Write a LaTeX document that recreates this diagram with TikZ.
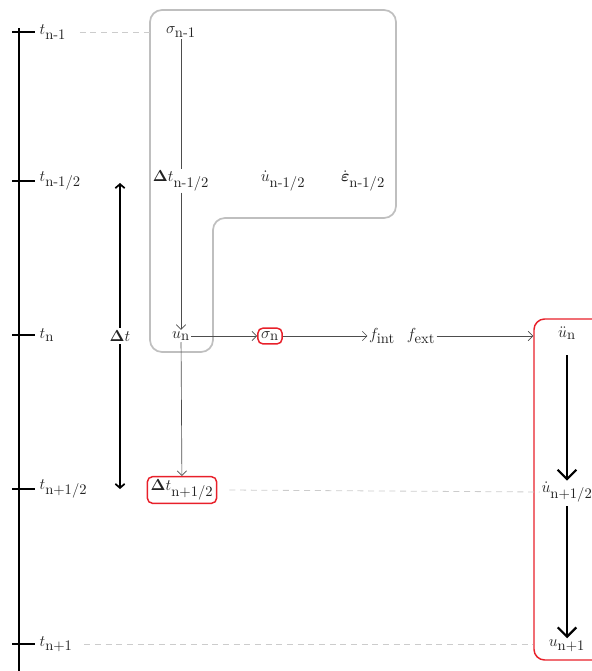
\documentclass[tikz,border=0pt,12pt]{standalone}
\usepackage{amsmath,amssymb}
\usetikzlibrary{arrows.meta,positioning}
\definecolor{boxgray}{HTML}{BFBFBF}
\definecolor{keyred}{HTML}{E8202A}
\definecolor{linegray}{HTML}{4D4D4D}
\definecolor{dashgray}{HTML}{CCCCCC}
\definecolor{ink}{HTML}{222222}
\newcommand{\ix}[1]{\mbox{\small #1}}

\tikzset{
  lbl/.style={inner sep=1pt, text=ink},
  flow/.style={draw=linegray, line width=0.5pt, -{Straight Barb[length=3.5pt,width=7pt]}},
  flowline/.style={draw=linegray, line width=0.5pt},
  keybox/.style={draw=keyred, line width=1.1pt, rounded corners=4pt, inner sep=2.5pt, text=ink},
  guide/.style={draw=dashgray, line width=0.6pt, dash pattern=on 4.5pt off 3.5pt},
  bigflow/.style={line width=1.6pt, -{Straight Barb[length=7pt,width=14pt]}},
  axis/.style={line width=1.5pt}
}

\begin{document}
\begin{tikzpicture}[x=0.75pt, y=-0.75pt]
  \useasboundingbox (0,0) rectangle (592,671);

  % time axis
  \draw[axis, -{Straight Barb[length=3pt,width=6pt]}] (19,28) -- (19,682);
  \foreach \name/\y/\lab in {tA/32/{n-1}, tB/181/{n-1/2}, tC/335/{n}, tD/489/{n+1/2}, tE/644/{n+1}} {
    \draw[axis] (12,\y) -- (35,\y);
    \node[lbl, anchor=west] (\name) at (38,\y) {$t_{\ix{\lab}}$};
  }

  % gray group
  \draw[boxgray, line width=1.3pt, rounded corners=9pt]
    (150,180) -- (150,10) -- (396,10) -- (396,218) -- (213,218) -- (213,352) -- (150,352) -- cycle;
  \coordinate (grpL) at (150,32);

  % quantities
  \node[lbl] (sigA) at (181,32) {$\sigma_{\ix{n-1}}$};
  \node[lbl] (dtA) at (181,181) {$\mathbf{\Delta} t_{\ix{n-1/2}}$};
  \node[lbl] (vA) at (283,181) {$\dot u_{\ix{n-1/2}}$};
  \node[lbl] (eA) at (363,181) {$\dot{\boldsymbol{\varepsilon}}_{\ix{n-1/2}}$};
  \node[lbl] (uA) at (181,336) {$u_{\ix{n}}$};
  \node[keybox] (sigB) at (270,336) {$\sigma_{\ix{n}}$};
  \node[lbl] (fint) at (382,336) {$f_{\ix{int}}$};
  \node[lbl] (fext) at (421,336) {$f_{\ix{ext}}$};
  \node[keybox] (dtB) at (182,490) {$\mathbf{\Delta} t_{\ix{n+1/2}}$};

  % explicit update box
  \node[draw=keyred, line width=1.1pt, rounded corners=8pt, minimum width=64.5pt, minimum height=255.75pt]
    (solver) at (577,489.5) {};
  \node[lbl] (aB) at (567,333) {$\ddot u_{\ix{n}}$};
  \node[lbl] (vB) at (567,492) {$\dot u_{\ix{n+1/2}}$};
  \node[lbl] (uB) at (567,646) {$u_{\ix{n+1}}$};

  % step size
  \coordinate (dtTop) at (120,183);
  \coordinate (dtBot) at (120,489);
  \draw[line width=1.3pt, {Straight Barb[length=3pt,width=7pt]}-{Straight Barb[length=3pt,width=7pt]}] (dtTop) -- (dtBot);
  \node[lbl, fill=white, inner sep=2pt] (dt) at (120,336) {$\mathbf{\Delta} t$};

  % guides
  \draw[guide] (tA.east) ++(12,0) -- (grpL);
  \draw[guide] (dtB.east) ++(12,0) -- (vB.west);
  \draw[guide] (tE.east) ++(10,0) -- (tE -| solver.west);

  % connectors
  \draw[flowline] (sigA) -- (dtA);
  \draw[flow] (dtA) -- (uA);
  \draw[flow] (uA) -- (sigB);
  \draw[flow] (sigB) -- (fint);
  \draw[flow] (fext) -- (fext -| solver.west);
  \draw[flow] (uA) -- (dtB);
  \draw[bigflow] (aB) ++(0,22) -- (vB.north);
  \draw[bigflow] (vB) ++(0,14) -- (uB.north);
\end{tikzpicture}
\end{document}
